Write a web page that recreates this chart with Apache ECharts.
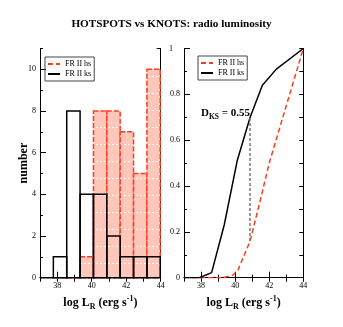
<!DOCTYPE html>
<html>
<head>
<meta charset="utf-8">
<script src="https://cdn.jsdelivr.net/npm/echarts@6/dist/echarts.min.js"></script>
<style>
html, body { margin: 0; padding: 0; background: #fff; }
#main { width: 343px; height: 327px; }
</style>
</head>
<body>
<div id="main"></div>
<script>
// histogram bins (log L_R) and counts
var binEdges = [37.0, 37.775, 38.55, 39.325, 40.1, 40.875, 41.65, 42.425, 43.2, 43.975];
var hsCounts = [null, 0, 0, 1, 8, 8, 7, 5, 10];
var ksCounts = [0, 1, 8, 4, 4, 2, 1, 1, 1];

// cumulative distributions
var ksCdfX = [37, 37.9, 38.62, 39.36, 40.12, 40.88, 41.6, 42.42, 44];
var ksCdfY = [0, 0, 0.022, 0.23, 0.51, 0.70, 0.84, 0.91, 1.0];
var hsCdfX = [37, 39.3, 39.88, 40.17, 40.88, 41.45, 42.0, 42.6, 43.2, 44];
var hsCdfY = [0, 0, 0.012, 0.034, 0.16, 0.33, 0.5, 0.65, 0.8, 1.0];

// KS distance marker
var ksGapX = 40.88;
var ksGapY = [0.16, 0.70];

var serif = 'Liberation Serif';
var myChart = echarts.init(document.getElementById('main'));

// pink fill with white dotted rows
var pat = document.createElement('canvas');
pat.width = 4; pat.height = 17;
var ctx = pat.getContext('2d');
ctx.fillStyle = '#ffc6ba';
ctx.fillRect(0, 0, 4, 17);
ctx.fillStyle = '#ffffff';
ctx.fillRect(0, 8, 2, 1);

function bins(counts) {
    var out = [];
    for (var i = 0; i < counts.length; i++) {
        if (counts[i] == null) continue;
        out.push([binEdges[i], binEdges[i + 1], counts[i]]);
    }
    return out;
}
function pairs(xs, ys) {
    return xs.map(function (x, i) { return [x, ys[i]]; });
}

function histItem(style) {
    return function (params, api) {
        var p0 = api.coord([api.value(0), 0]);
        var p1 = api.coord([api.value(1), api.value(2)]);
        return {
            type: 'rect',
            shape: { x: p0[0], y: p1[1], width: p1[0] - p0[0], height: p0[1] - p1[1] },
            style: style
        };
    };
}

var labelStyle = { fontFamily: serif, fontSize: 8, color: '#000' };
var nameRich = {
    a: { fontFamily: serif, fontSize: 12, fontWeight: 'bold', color: '#000', lineHeight: 16 },
    sub: { fontFamily: serif, fontSize: 8, fontWeight: 'bold', color: '#000', lineHeight: 16, verticalAlign: 'bottom', padding: [6, 0, 0, 0] },
    sup: { fontFamily: serif, fontSize: 8, fontWeight: 'bold', color: '#000', lineHeight: 16, verticalAlign: 'top', padding: [0, 0, 6, 0] }
};

function xAxes(g) {
    return [
        {
            gridIndex: g, type: 'value', min: 37, max: 44, interval: 1, position: 'bottom',
            name: '{a|log L}{sub|R}{a| (erg s}{sup|-1}{a|)}',
            nameLocation: 'middle', nameGap: 16,
            nameTextStyle: { rich: nameRich },
            axisLine: { show: true, lineStyle: { color: '#000', width: 1 } },
            axisTick: { inside: true, length: 3, lineStyle: { color: '#000' } },
            axisLabel: Object.assign({ margin: 4, formatter: function (v) { return v % 2 === 0 ? String(v) : ''; } }, labelStyle),
            splitLine: { show: false }
        },
        {
            gridIndex: g, type: 'value', min: 37, max: 44, position: 'bottom',
            axisLine: { show: false },
            axisTick: { inside: true, length: 6, customValues: [38, 40, 42, 44], lineStyle: { color: '#000' } },
            axisLabel: { show: false },
            splitLine: { show: false }
        },
        {
            gridIndex: g, type: 'value', min: 37, max: 44, interval: 1, position: 'top',
            axisLine: { show: true, lineStyle: { color: '#000', width: 1 } },
            axisTick: { inside: true, length: 4, lineStyle: { color: '#000' } },
            axisLabel: { show: false },
            splitLine: { show: false }
        }
    ];
}

var legendBase = {
    data: ['FR II hs', 'FR II ks'], orient: 'vertical',
    itemWidth: 12, itemHeight: 7, itemGap: 2, padding: [3, 3, 3, 2],
    borderColor: '#444', borderWidth: 1, selectedMode: false,
    itemStyle: { opacity: 0 },
    textStyle: labelStyle
};

var option = {
    animation: false,
    backgroundColor: '#fff',
    title: {
        text: 'HOTSPOTS vs KNOTS: radio luminosity',
        left: 'center',
        top: 14,
        textStyle: { fontFamily: serif, fontWeight: 'bold', fontSize: 11.2, color: '#000' }
    },
    legend: [
        Object.assign({ left: 45, top: 57 }, legendBase),
        Object.assign({ left: 198, top: 56 }, legendBase)
    ],
    grid: [
        { left: 40, top: 48.5, width: 120.7, height: 229.2 },
        { left: 184, top: 48.5, width: 119.3, height: 229.2 }
    ],
    xAxis: xAxes(0).concat(xAxes(1)),
    yAxis: [
        {
            gridIndex: 0, type: 'value', min: 0, max: 11, interval: 1, position: 'left',
            name: 'number', nameLocation: 'middle', nameGap: 10, nameMoveOverlap: false,
            nameTextStyle: { fontFamily: serif, fontSize: 12, fontWeight: 'bold', color: '#000' },
            axisLine: { show: true, lineStyle: { color: '#000' } },
            axisTick: { inside: true, length: 3, lineStyle: { color: '#000' } },
            axisLabel: Object.assign({ margin: 4, formatter: function (v) { return v % 2 === 0 && v <= 10 ? String(v) : ''; } }, labelStyle),
            splitLine: { show: false }
        },
        {
            gridIndex: 0, type: 'value', min: 0, max: 11, position: 'left',
            axisLine: { show: false },
            axisTick: { inside: true, length: 6, customValues: [0, 2, 4, 6, 8, 10], lineStyle: { color: '#000' } },
            axisLabel: { show: false },
            splitLine: { show: false }
        },
        {
            gridIndex: 0, type: 'value', min: 0, max: 11, interval: 1, position: 'right',
            axisLine: { show: true, lineStyle: { color: '#000' } },
            axisTick: { inside: true, length: 4, lineStyle: { color: '#000' } },
            axisLabel: { show: false },
            splitLine: { show: false }
        },
        {
            gridIndex: 1, type: 'value', min: 0, max: 1, interval: 0.1, position: 'left',
            axisLine: { show: true, lineStyle: { color: '#000' } },
            axisTick: { inside: true, length: 3, lineStyle: { color: '#000' } },
            axisLabel: Object.assign({
                margin: 4,
                formatter: function (v) {
                    var k = Math.round(v * 10);
                    if (k % 2) return '';
                    return k === 10 ? '{l|1}' : String(k / 10);
                },
                rich: { l: { fontFamily: serif, fontSize: 8, color: '#000', padding: [0, 7, 0, 0] } }
            }, labelStyle),
            splitLine: { show: false }
        },
        {
            gridIndex: 1, type: 'value', min: 0, max: 1, position: 'left',
            axisLine: { show: false },
            axisTick: { inside: true, length: 6, customValues: [0, 0.2, 0.4, 0.6, 0.8, 1], lineStyle: { color: '#000' } },
            axisLabel: { show: false },
            splitLine: { show: false }
        },
        {
            gridIndex: 1, type: 'value', min: 0, max: 1, interval: 0.1, position: 'right',
            axisLine: { show: true, lineStyle: { color: '#000' } },
            axisTick: { inside: true, length: 4, lineStyle: { color: '#000' } },
            axisLabel: { show: false },
            splitLine: { show: false }
        }
    ],
    series: [
        {
            name: 'FR II hs', type: 'line', xAxisIndex: 3, yAxisIndex: 3,
            data: pairs(hsCdfX, hsCdfY), symbol: 'none',
            lineStyle: { color: '#ff3b1f', width: 1.5, type: [5, 3] },
            itemStyle: { color: '#ff3b1f' }
        },
        {
            name: 'FR II ks', type: 'line', xAxisIndex: 3, yAxisIndex: 3,
            data: pairs(ksCdfX, ksCdfY), symbol: 'none',
            lineStyle: { color: '#000', width: 1.5 },
            itemStyle: { color: '#000' },
            markLine: {
                silent: true, symbol: 'none', label: { show: false },
                lineStyle: { color: '#777', width: 1.5, type: [3, 2] },
                data: [[{ coord: [ksGapX, ksGapY[0]] }, { coord: [ksGapX, ksGapY[1]] }]]
            }
        },
        {
            name: 'FR II hs', type: 'custom', xAxisIndex: 0, yAxisIndex: 0,
            data: bins(hsCounts), encode: { x: [0, 1], y: 2 },
            renderItem: histItem({ fill: { image: pat, repeat: 'repeat' }, stroke: '#ff3b1f', lineWidth: 1.5, lineDash: [5, 2] }),
            z: 2
        },
        {
            name: 'FR II ks', type: 'custom', xAxisIndex: 0, yAxisIndex: 0,
            data: bins(ksCounts), encode: { x: [0, 1], y: 2 },
            renderItem: histItem({ fill: 'none', stroke: '#000', lineWidth: 1.5 }),
            z: 3
        }
    ],
    graphic: [
        {
            type: 'text', left: 201, top: 107, z: 10,
            style: {
                text: '{d|D}{s|KS}{d| = 0.55}',
                rich: {
                    d: { fontFamily: serif, fontSize: 11, fontWeight: 'bold', fill: '#000', lineHeight: 15 },
                    s: { fontFamily: serif, fontSize: 7.5, fontWeight: 'bold', fill: '#000', lineHeight: 15, verticalAlign: 'bottom', padding: [6, 0, 0, 0] }
                }
            }
        }
    ]
};
if (option && typeof option === "object") {
    myChart.setOption(option, true);
}
</script>
</body>
</html>
